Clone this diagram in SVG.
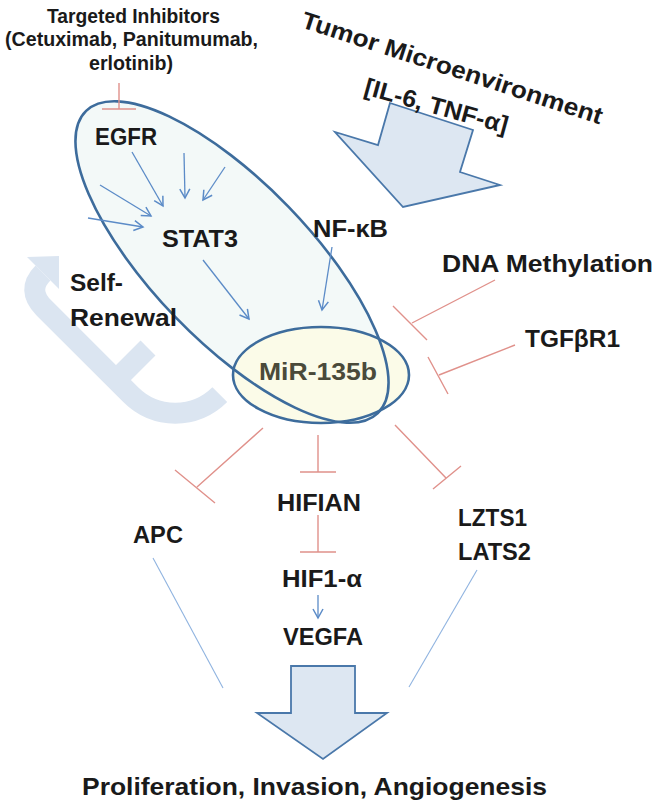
<svg xmlns="http://www.w3.org/2000/svg" width="661" height="809" viewBox="0 0 661 809">
<defs>
<style>
.t{font-family:"Liberation Sans",Arial,sans-serif;font-weight:bold;font-size:24px;fill:#1a1a1a}
.s{font-size:20px}
.inh{stroke:#e0918b;stroke-width:1.4;fill:none}
.act{stroke:#5b8bc7;stroke-width:1.3;fill:none;marker-end:url(#ah)}
.ln{stroke:#8fb3e0;stroke-width:1.1;fill:none}
.bigarrow{fill:#dde7f2;stroke:#4a78aa;stroke-width:1.8;stroke-linejoin:miter}
.eline{fill:none;stroke:#3d6c9c;stroke-width:2.6}
</style>
<marker id="ah" viewBox="0 0 12 12" refX="10" refY="6" markerWidth="12" markerHeight="12" markerUnits="userSpaceOnUse" orient="auto">
<path d="M1,1 L10,6 L1,11" fill="none" stroke="#5b8bc7" stroke-width="1.5"/>
</marker>
</defs>
<rect width="661" height="809" fill="#ffffff"/>

<g id="self-renewal-arrow">
<path d="M43,273 Q26,290 44,308 L130.7,394.7 A63,63 0 0 0 219.8,394.7" fill="none" stroke="#dbe5f1" stroke-width="21"/>
<path d="M116,380 L148,348" fill="none" stroke="#dbe5f1" stroke-width="21"/>
<polygon points="59,256 27,257 59,289" fill="#dbe5f1"/>
</g>

<g id="ellipses">
<ellipse id="pathway-ellipse" cx="232" cy="262" rx="210" ry="79" transform="rotate(46 232 262)" fill="#f3f9f8"/>
<ellipse id="mir-ellipse-fill" cx="321" cy="375" rx="88" ry="48" fill="#fbfbe8"/>
<ellipse class="eline" cx="232" cy="262" rx="210" ry="79" transform="rotate(46 232 262)"/>
<ellipse class="eline" cx="321" cy="375" rx="88" ry="48"/>
</g>

<g id="tumor-arrow">
<polygon class="bigarrow" points="390,103 473,130 460,172 500,185 403,207 335,132 378,145"/>
</g>
<g id="output-arrow">
<polygon class="bigarrow" points="291,666 355,666 355,713 387,713 323,759 257,713 291,713"/>
</g>

<g id="connectors">
<path class="inh" d="M119,83 L119,109 M102,109 L136,109"/>
<path class="inh" d="M495,280 L412,323 M393,306 L427,340"/>
<path class="inh" d="M515,345 L439,375 M428,357 L448,394"/>
<path class="inh" d="M263,428 L197,487 M175,470 L215,503"/>
<path class="inh" d="M318,435 L318,472 M300,472 L336,472"/>
<path class="inh" d="M395,425 L446,478 M433,489 L461,466"/>
<path class="inh" d="M318,515 L318,552 M300,552 L336,552"/>
<path class="act" d="M132,152 L163,206"/>
<path class="act" d="M184,153 L185,198"/>
<path class="act" d="M225,167 L203,200"/>
<path class="act" d="M100,185 L151,216"/>
<path class="act" d="M88,218 L143,227"/>
<path class="act" d="M203,260 L249,319"/>
<path class="act" d="M332,247 L322,310"/>
<path class="act" d="M318,595 L318,618"/>
<path class="ln" d="M153,558 L223,688"/>
<path class="ln" d="M477,570 L409,687"/>
</g>

<g id="node-inhibitors">
<text class="t s" x="47" y="23" textLength="173" lengthAdjust="spacingAndGlyphs">Targeted Inhibitors</text>
<text class="t s" x="5" y="46" textLength="253" lengthAdjust="spacingAndGlyphs">(Cetuximab, Panitumumab,</text>
<text class="t s" x="89" y="70" textLength="84" lengthAdjust="spacingAndGlyphs">erlotinib)</text>
</g>
<g id="node-tumor">
<text class="t" transform="translate(300,27) rotate(18)" x="0" y="0" textLength="315" lengthAdjust="spacingAndGlyphs">Tumor Microenvironment</text>
<text class="t" transform="translate(363,94) rotate(15.5)" x="0" y="0" textLength="148" lengthAdjust="spacingAndGlyphs">[IL-6, TNF-α]</text>
</g>
<g id="node-egfr"><text class="t" x="95" y="145" textLength="62" lengthAdjust="spacingAndGlyphs">EGFR</text></g>
<g id="node-stat3"><text class="t" x="162" y="247" textLength="76" lengthAdjust="spacingAndGlyphs">STAT3</text></g>
<g id="node-nfkb"><text class="t" x="313" y="237" textLength="75" lengthAdjust="spacingAndGlyphs">NF-κB</text></g>
<g id="node-selfrenewal">
<text class="t" x="70" y="291" textLength="53" lengthAdjust="spacingAndGlyphs">Self-</text>
<text class="t" x="70" y="326" textLength="107" lengthAdjust="spacingAndGlyphs">Renewal</text>
</g>
<g id="node-mir135b"><text class="t" x="259" y="380" textLength="118" lengthAdjust="spacingAndGlyphs" style="fill:#4a4a3a">MiR-135b</text></g>
<g id="node-dna"><text class="t" x="442" y="272" textLength="211" lengthAdjust="spacingAndGlyphs">DNA Methylation</text></g>
<g id="node-tgfbr1"><text class="t" x="525" y="347" textLength="95" lengthAdjust="spacingAndGlyphs">TGFβR1</text></g>
<g id="node-hifian"><text class="t" x="277" y="511" textLength="84" lengthAdjust="spacingAndGlyphs">HIFIAN</text></g>
<g id="node-apc"><text class="t" x="133" y="543" textLength="50" lengthAdjust="spacingAndGlyphs">APC</text></g>
<g id="node-lzts1-lats2">
<text class="t" x="458" y="526" textLength="69" lengthAdjust="spacingAndGlyphs">LZTS1</text>
<text class="t" x="458" y="560" textLength="73" lengthAdjust="spacingAndGlyphs">LATS2</text>
</g>
<g id="node-hif1a"><text class="t" x="282" y="587" textLength="80" lengthAdjust="spacingAndGlyphs">HIF1-α</text></g>
<g id="node-vegfa"><text class="t" x="283" y="645" textLength="80" lengthAdjust="spacingAndGlyphs">VEGFA</text></g>
<g id="node-outcome"><text class="t" x="82" y="795" textLength="465" lengthAdjust="spacingAndGlyphs">Proliferation, Invasion, Angiogenesis</text></g>
</svg>
